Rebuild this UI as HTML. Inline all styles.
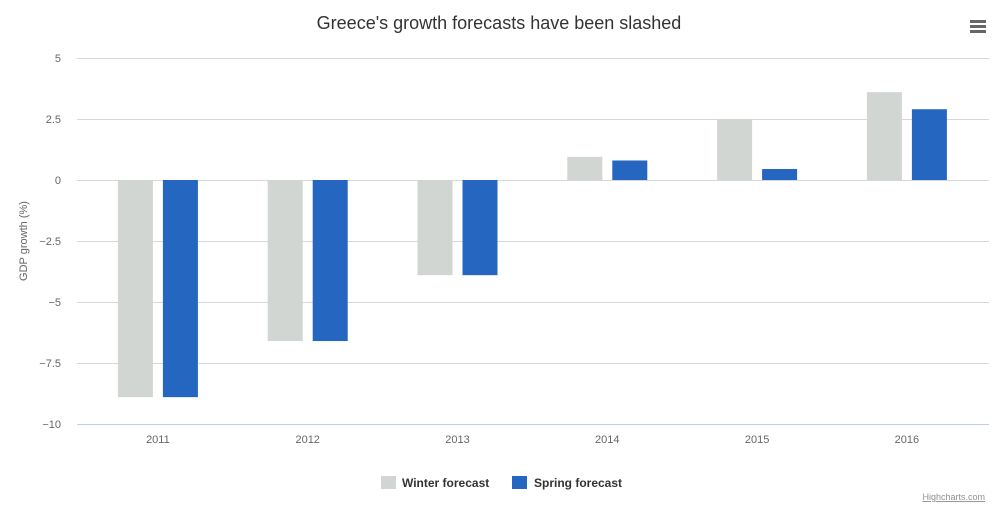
<!DOCTYPE html>
<html><head><meta charset="utf-8"><style>
body{margin:0;background:#fff;font-family:"Liberation Sans",sans-serif;}
svg text{font-family:"Liberation Sans",sans-serif;}
</style></head><body>
<svg id="chart" width="1001" height="512" viewBox="0 0 1001 512">
<rect width="1001" height="512" fill="#fff"/>
<text x="499" y="29" text-anchor="middle" font-size="18" fill="#333">Greece's growth forecasts have been slashed</text>
<g>
<rect x="970" y="20" width="16" height="3" fill="#666"/><rect x="970" y="25" width="16" height="3" fill="#666"/><rect x="970" y="30" width="16" height="3" fill="#666"/>
</g>
<g id="grid"></g><g id="bars"></g><g id="xlabels"></g>
<text transform="translate(27,241) rotate(-90)" text-anchor="middle" font-size="11" fill="#666">GDP growth (%)</text>
<g>
<g><rect x="381" y="476" width="15" height="13" fill="#d2d6d3"/><text x="402" y="487" font-size="12" font-weight="bold" fill="#333">Winter forecast</text></g>
<g><rect x="512" y="476" width="15" height="13" fill="#2466c0"/><text x="534" y="487" font-size="12" font-weight="bold" fill="#333">Spring forecast</text></g>
</g>
<text x="985" y="500" text-anchor="end" font-size="9" fill="#909090" text-decoration="underline">Highcharts.com</text>
</svg>
<script>
const categories=["2011","2012","2013","2014","2015","2016"];
const winter=[-8.9,-6.6,-3.9,0.95,2.5,3.6];
const spring=[-8.9,-6.6,-3.9,0.8,0.45,2.9];
const yTicks=[5,2.5,0,-2.5,-5,-7.5,-10];
const yTickLabels=["5","2.5","0","−2.5","−5","−7.5","−10"];
const NS="http://www.w3.org/2000/svg";
const y=v=>180-v*24.4;
const catW=149.8, left=83;
const xc=i=>left+catW*(i+0.5);
function mk(t,a,p){const e=document.createElementNS(NS,t);for(const k in a)e.setAttribute(k,a[k]);p.appendChild(e);return e;}
const grid=document.getElementById('grid');
yTicks.forEach((v,i)=>{
 const l=mk('line',{x1:77,x2:989,y1:y(v)+0.5,y2:y(v)+0.5,stroke:v===-10?'#c0d0e0':'#d8d8d8','stroke-width':1},grid);
 
 
 const t=mk('text',{x:61,y:y(v)+4,'text-anchor':'end','font-size':11,fill:'#666'},grid);
 t.textContent=yTickLabels[i];
 
 
});
const bars=document.getElementById('bars'), xl=document.getElementById('xlabels');
categories.forEach((c,i)=>{
 [[winter,'#d2d6d3',-40],[spring,'#2466c0',5]].forEach(([s,col,off],j)=>{
  const v=s[i];const y0=y(0),y1=y(v);
  const r=mk('rect',{x:xc(i)+off,y:Math.min(y0,y1),width:35,height:Math.abs(y1-y0),fill:col},bars);
  
  
 });
 const t=mk('text',{x:xc(i),y:443,'text-anchor':'middle','font-size':11,fill:'#666'},xl);
 t.textContent=c;
 
 
});
</script>
</body></html>
